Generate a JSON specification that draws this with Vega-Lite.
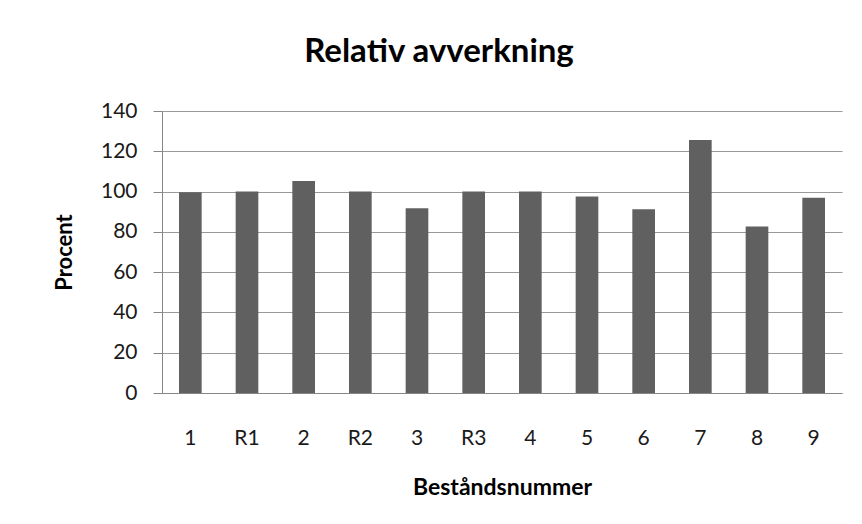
{
  "$schema": "https://vega.github.io/schema/vega-lite/v6.json",
  "autosize": "none",
  "width": 680,
  "height": 282,
  "padding": {"left": 162, "top": 111, "right": 20, "bottom": 131},
  "background": "white",
  "title": {
    "text": "Relativ avverkning",
    "anchor": "middle",
    "dx": -63,
    "offset": 31,
    "font": "Lato",
    "fontSize": 33,
    "fontWeight": "bold",
    "color": "#000000"
  },
  "data": {
    "values": [
      {"Bestand": "1", "Procent": 99.7},
      {"Bestand": "R1", "Procent": 100},
      {"Bestand": "2", "Procent": 105.2},
      {"Bestand": "R2", "Procent": 100},
      {"Bestand": "3", "Procent": 91.7},
      {"Bestand": "R3", "Procent": 100},
      {"Bestand": "4", "Procent": 100},
      {"Bestand": "5", "Procent": 97.5},
      {"Bestand": "6", "Procent": 91.2},
      {"Bestand": "7", "Procent": 125.6},
      {"Bestand": "8", "Procent": 82.7},
      {"Bestand": "9", "Procent": 96.9}
    ]
  },
  "mark": {"type": "bar", "color": "#606060"},
  "encoding": {
    "x": {
      "field": "Bestand",
      "type": "nominal",
      "sort": null,
      "scale": {"paddingInner": 0.6, "paddingOuter": 0.3},
      "axis": {
        "title": "Beståndsnummer",
        "labelAngle": 0,
        "ticks": false,
        "labelPadding": 34,
        "titlePadding": 28,
        "domainColor": "#868686",
        "labelFont": "Lato",
        "labelFontSize": 21,
        "labelColor": "#1a1a1a",
        "titleFont": "Lato",
        "titleFontSize": 23,
        "titleFontWeight": "bold",
        "titleColor": "#000000"
      }
    },
    "y": {
      "field": "Procent",
      "type": "quantitative",
      "scale": {"domain": [0, 140], "nice": false},
      "axis": {
        "title": "Procent",
        "values": [0, 20, 40, 60, 80, 100, 120, 140],
        "tickSize": 9,
        "tickColor": "#868686",
        "domainColor": "#868686",
        "gridColor": "#999999",
        "labelPadding": 16,
        "titlePadding": 24,
        "labelFont": "Lato",
        "labelFontSize": 21,
        "labelColor": "#1a1a1a",
        "titleFont": "Lato",
        "titleFontSize": 22,
        "titleFontWeight": "bold",
        "titleColor": "#000000"
      }
    }
  },
  "config": {
    "view": {"stroke": null}
  }
}
